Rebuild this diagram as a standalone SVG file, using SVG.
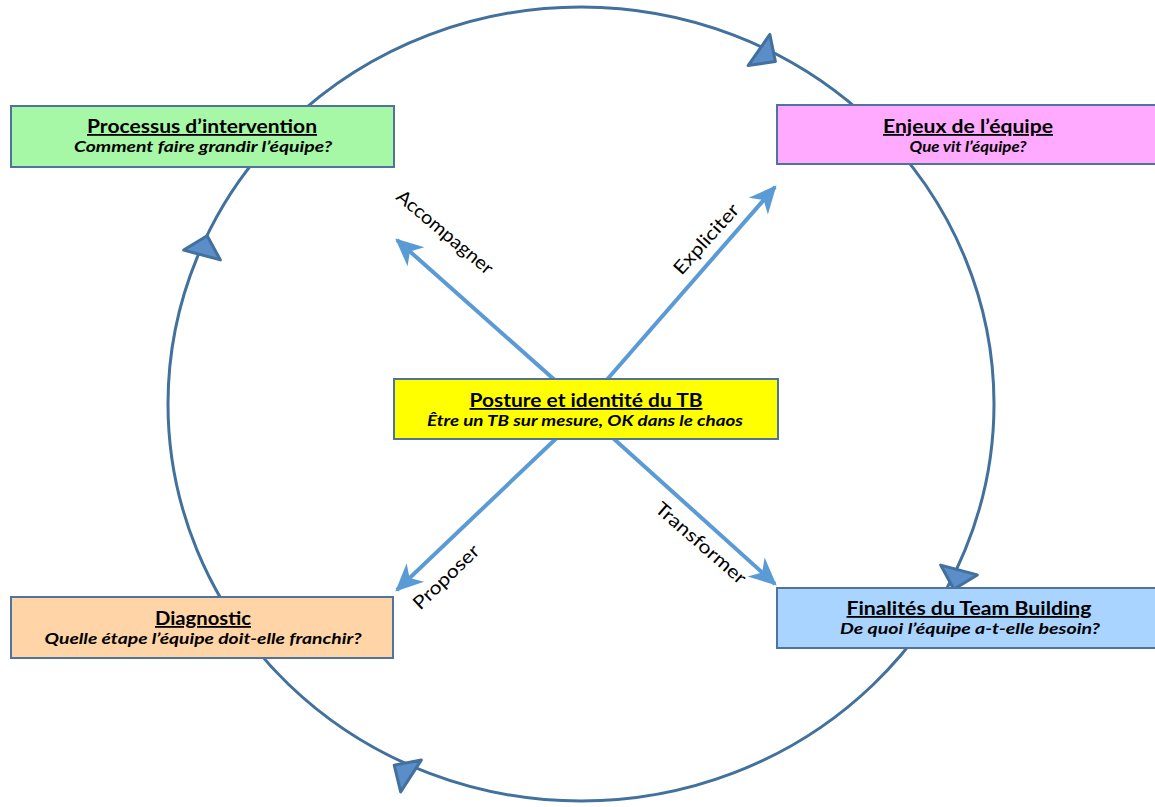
<svg xmlns="http://www.w3.org/2000/svg" xmlns:xlink="http://www.w3.org/1999/xlink" width="1155" height="807" viewBox="0 0 1155 807">
<style>
.ring{fill:none;stroke:#41719C;stroke-width:3}
.tri{fill:#5B8DC8;stroke:#41719C;stroke-width:3;stroke-linejoin:round}
.box{stroke:#4F739C;stroke-width:2}
.t{font-family:Lato,"Liberation Sans",sans-serif;font-weight:bold;font-size:18px;text-anchor:middle;text-decoration:underline;fill:#000}
.s{font-family:Lato,"Liberation Sans",sans-serif;font-weight:bold;font-style:italic;font-size:16px;text-anchor:middle;fill:#000}
.lbl{font-family:Lato,"Liberation Sans",sans-serif;font-size:18.5px;text-anchor:middle;fill:#000}
.arr{stroke:#5B9BD5;stroke-width:4;fill:none;marker-end:url(#stealth)}
</style>
<defs>
<marker id="stealth" markerUnits="userSpaceOnUse" markerWidth="30" markerHeight="30" viewBox="-24 -12 26 24" refX="0" refY="0" orient="auto">
<path d="M2,0 L-22,-11 L-15,0 L-22,11 Z" fill="#5B9BD5"/>
</marker>
<path id="tri" d="M0,-19 L20,0 L0,19 Z"/>
</defs>
<g id="connectors">
<ellipse class="ring" cx="581" cy="404" rx="413" ry="397"/>
<use xlink:href="#tri" class="tri" transform="translate(759,50) rotate(35)"/>
<use xlink:href="#tri" class="tri" transform="translate(959,570) rotate(105)"/>
<use xlink:href="#tri" class="tri" transform="translate(411,776) rotate(213)"/>
<use xlink:href="#tri" class="tri" transform="translate(202,255) rotate(-75)"/>
<line class="arr" x1="584" y1="406" x2="397" y2="240"/>
<line class="arr" x1="584" y1="406" x2="775" y2="187"/>
<line class="arr" x1="584" y1="412" x2="397" y2="590"/>
<line class="arr" x1="584" y1="412" x2="775" y2="584"/>
<text class="lbl" transform="translate(445,232) rotate(40)" dy="0.35em" textLength="120" lengthAdjust="spacingAndGlyphs">Accompagner</text>
<text class="lbl" transform="translate(706,239) rotate(-48)" dy="0.35em" textLength="88" lengthAdjust="spacingAndGlyphs">Expliciter</text>
<text class="lbl" transform="translate(446,577) rotate(-44)" dy="0.35em" textLength="84" lengthAdjust="spacingAndGlyphs">Proposer</text>
<text class="lbl" transform="translate(701,543) rotate(41)" dy="0.35em" textLength="114" lengthAdjust="spacingAndGlyphs">Transformer</text>
</g>
<g id="processus">
<rect class="box" x="11" y="106" width="383" height="61" fill="#A6F8A6"/>
<text class="t" x="202" y="133" textLength="230" lengthAdjust="spacingAndGlyphs">Processus d’intervention</text>
<text class="s" x="203" y="152" textLength="258" lengthAdjust="spacingAndGlyphs">Comment faire grandir l’équipe?</text>
</g>
<g id="enjeux">
<rect class="box" x="777" y="105" width="380" height="59" fill="#FFAAFF"/>
<text class="t" x="968" y="133" textLength="170" lengthAdjust="spacingAndGlyphs">Enjeux de l’équipe</text>
<text class="s" x="968" y="152" textLength="117" lengthAdjust="spacingAndGlyphs">Que vit l’équipe?</text>
</g>
<g id="posture">
<rect class="box" x="394" y="379" width="384" height="60" fill="#FFFF00"/>
<text class="t" x="586" y="407" textLength="233" lengthAdjust="spacingAndGlyphs">Posture et identité du TB</text>
<text class="s" x="585" y="426" textLength="316" lengthAdjust="spacingAndGlyphs">Être un TB sur mesure, OK dans le chaos</text>
</g>
<g id="diagnostic">
<rect class="box" x="11" y="597" width="382" height="61" fill="#FFD4A6"/>
<text class="t" x="203" y="625" textLength="96" lengthAdjust="spacingAndGlyphs">Diagnostic</text>
<text class="s" x="203" y="644" textLength="317" lengthAdjust="spacingAndGlyphs">Quelle étape l’équipe doit-elle franchir?</text>
</g>
<g id="finalites">
<rect class="box" x="777" y="588" width="380" height="60" fill="#A9D4FF"/>
<text class="t" x="969" y="615" textLength="245" lengthAdjust="spacingAndGlyphs">Finalités du Team Building</text>
<text class="s" x="970" y="634" textLength="260" lengthAdjust="spacingAndGlyphs">De quoi l’équipe a-t-elle besoin?</text>
</g>
</svg>
